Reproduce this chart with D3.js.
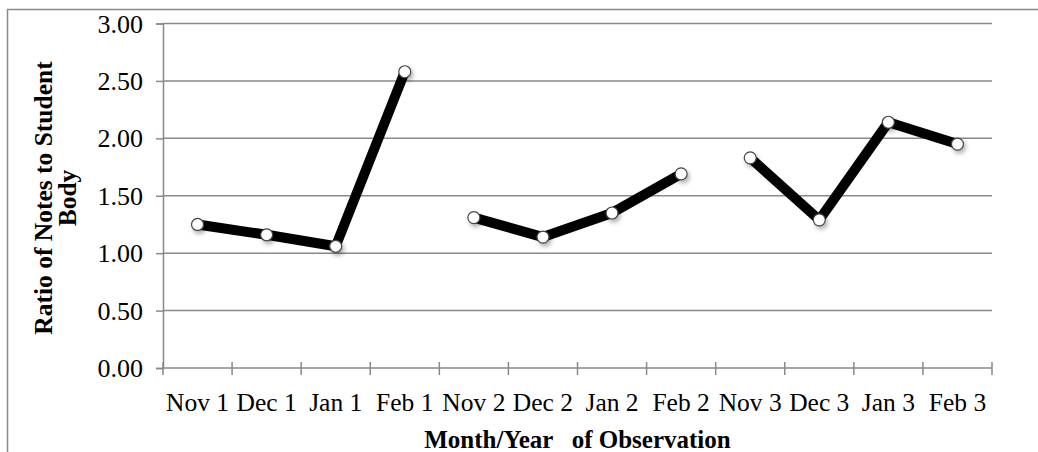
<!DOCTYPE html>
<html><head><meta charset="utf-8">
<script src="https://cdn.jsdelivr.net/npm/d3@7"></script>
<style>
html,body{margin:0;padding:0;background:#fff;}
svg{display:block;}
text{font-family:"Liberation Serif","Times New Roman",serif;fill:#000;}
</style></head>
<body>
<svg id="chart" width="1038" height="452"></svg>
<script>
const categories = ["Nov 1","Dec 1","Jan 1","Feb 1","Nov 2","Dec 2","Jan 2","Feb 2","Nov 3","Dec 3","Jan 3","Feb 3"];
const years = [1,1,1,1,2,2,2,2,3,3,3,3];
const values = [1.25,1.16,1.06,2.58,1.31,1.14,1.35,1.69,1.83,1.29,2.14,1.95];
const yTicks = [0,0.5,1,1.5,2,2.5,3];
const yTitleLines = ["Ratio of Notes to Student","Body"];
const xTitle = "Month/Year   of Observation";

const svg = d3.select("#chart");
const W = 1038, H = 452;
const m = {left:163, right:992, top:23.5, bottom:368};
const grid = "#898989";

const defs = svg.append("defs");
const f = defs.append("filter").attr("id","sh").attr("x","-100%").attr("y","-100%").attr("width","300%").attr("height","300%");
f.append("feDropShadow").attr("dx",2).attr("dy",3).attr("stdDeviation",2.2).attr("flood-color","#000").attr("flood-opacity",0.3);

svg.append("path").attr("d",`M7.5,${H} V9.5 H${W}`).attr("fill","none").attr("stroke","#8a8a8a").attr("stroke-width",1.5);

const x = d3.scaleBand().domain(categories).range([m.left,m.right]).paddingInner(0).paddingOuter(0);
const y = d3.scaleLinear().domain([0,3]).range([m.bottom,m.top]);

svg.append("g").selectAll("line").data(yTicks.filter(d=>d>0)).join("line")
  .attr("x1",m.left).attr("x2",m.right).attr("y1",d=>y(d)).attr("y2",d=>y(d))
  .attr("stroke",grid).attr("stroke-width",1.5);

const yAxis = svg.append("g").attr("transform",`translate(${m.left},0)`)
  .call(d3.axisLeft(y).tickValues(yTicks).tickFormat(d3.format(".2f")).tickSize(7).tickPadding(13));
yAxis.select(".domain").attr("stroke",grid).attr("stroke-width",1.5);
yAxis.selectAll(".tick line").attr("stroke",grid).attr("stroke-width",1.5);
yAxis.selectAll("text").attr("font-size",26).attr("font-family","Liberation Serif").attr("fill","#000").attr("dy","0.33em");

const bounds = categories.map(c=>x(c)).concat([m.right]);
const xAxis = svg.append("g").attr("transform",`translate(0,${m.bottom})`);
xAxis.append("line").attr("x1",m.left).attr("x2",m.right).attr("stroke",grid).attr("stroke-width",1.5);
xAxis.selectAll(".tk").data(bounds).join("line").attr("class","tk")
  .attr("x1",d=>d).attr("x2",d=>d).attr("y1",-6).attr("y2",7).attr("stroke",grid).attr("stroke-width",1.5);
xAxis.selectAll(".lbl").data(categories).join("text").attr("class","lbl")
  .attr("x",d=>x(d)+x.bandwidth()/2).attr("y",43).attr("text-anchor","middle")
  .attr("font-size",25.5).text(d=>d);

const line = d3.line().x(d=>x(d.c)+x.bandwidth()/2).y(d=>y(d.v));
const pts = categories.map((c,i)=>({c, v:values[i], g:years[i]}));
const groups = d3.groups(pts, d=>d.g);
svg.append("g").selectAll("path").data(groups).join("path")
  .attr("d",d=>line(d[1])).attr("fill","none").attr("stroke","#000").attr("stroke-width",10)
  .attr("stroke-linejoin","round").attr("stroke-linecap","round");

svg.append("g").selectAll("circle").data(pts).join("circle")
  .attr("cx",d=>x(d.c)+x.bandwidth()/2).attr("cy",d=>y(d.v)).attr("r",6)
  .attr("fill","#fff").attr("stroke","#444").attr("stroke-width",1.2).attr("filter","url(#sh)");

svg.append("text").attr("x",(m.left+m.right)/2).attr("y",448).attr("text-anchor","middle")
  .attr("font-size",25).attr("font-weight","bold").attr("xml:space","preserve").style("white-space","pre").text(xTitle);

const yt = svg.append("text").attr("transform",`translate(52,198) rotate(-90)`).attr("text-anchor","middle")
  .attr("font-size",25.5).attr("font-weight","bold");
yt.selectAll("tspan").data(yTitleLines).join("tspan").attr("x",0).attr("dy",(d,i)=>i===0?0:24).text(d=>d);
</script>
</body></html>
